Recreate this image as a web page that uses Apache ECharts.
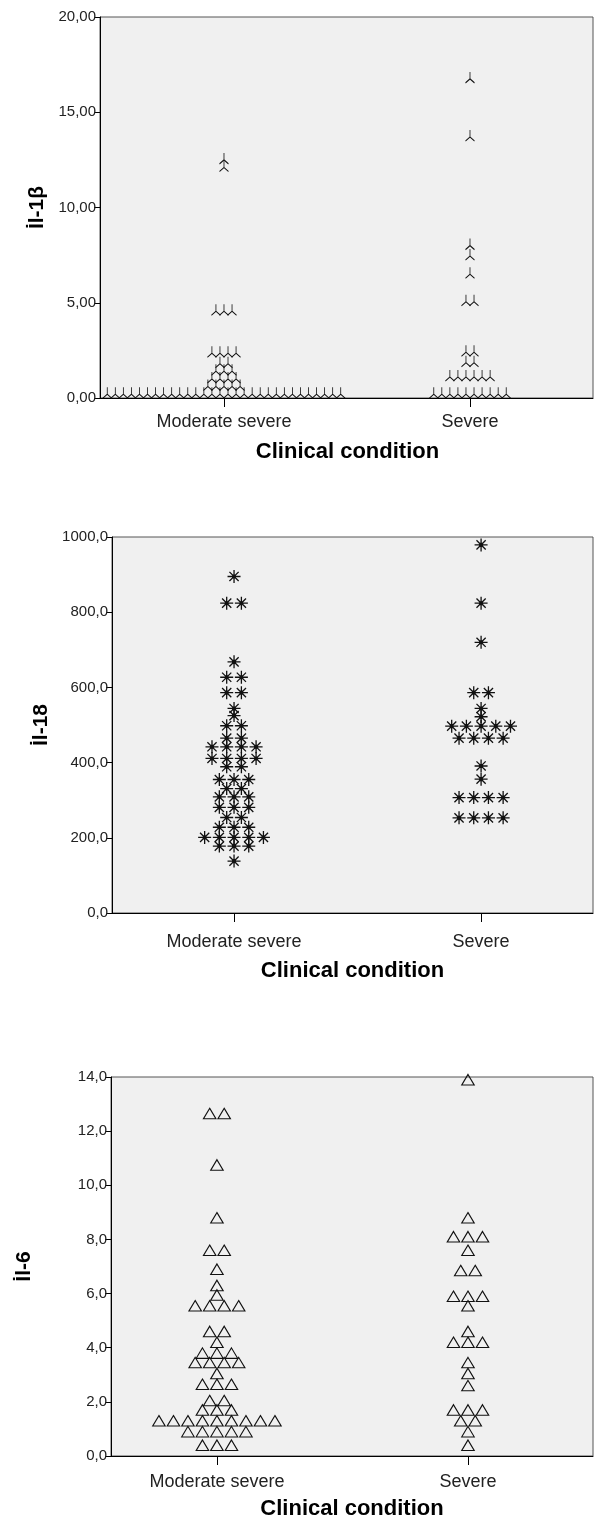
<!DOCTYPE html>
<html>
<head>
<meta charset="utf-8">
<style>
  html, body { margin: 0; padding: 0; background: #fff; }
  #chart { width: 595px; height: 1519px; }
</style>
<script src="https://cdn.jsdelivr.net/npm/echarts@6/dist/echarts.min.js"></script>
</head>
<body>
<div id="chart"></div>
<script>
const categories = ['Moderate severe', 'Severe'];

// Il-1β, one entry per patient (values read at the dot bins)
const il1bModerate = [
  12.5, 12.1,
  4.55, 4.55, 4.55,
  2.35, 2.35, 2.35, 2.35,
  1.8, 1.8,
  1.4, 1.4, 1.4,
  1.0, 1.0, 1.0, 1.0,
  0.6, 0.6, 0.6, 0.6, 0.6,
  0.2, 0.2, 0.2, 0.2, 0.2, 0.2, 0.2, 0.2, 0.2, 0.2,
  0.2, 0.2, 0.2, 0.2, 0.2, 0.2, 0.2, 0.2, 0.2, 0.2,
  0.2, 0.2, 0.2, 0.2, 0.2, 0.2, 0.2, 0.2, 0.2, 0.2
];
const il1bSevere = [
  16.75, 13.7, 8.0, 7.45, 6.5,
  5.05, 5.05,
  2.4, 2.4,
  1.85, 1.85,
  1.1, 1.1, 1.1, 1.1, 1.1, 1.1,
  0.2, 0.2, 0.2, 0.2, 0.2, 0.2, 0.2, 0.2, 0.2, 0.2
];

// Il-18
const il18Moderate = [
  895, 824, 824, 668, 627, 627, 586, 586, 544, 525,
  498, 498, 465, 465,
  442, 442, 442, 442,
  411, 411, 411, 411,
  389, 389,
  355, 355, 355,
  331, 331,
  309, 309, 309,
  281, 281, 281,
  254, 254,
  228, 228, 228,
  201, 201, 201, 201, 201,
  178, 178, 178,
  138
];
const il18Severe = [
  979, 824, 720, 586, 586, 544, 522,
  497, 497, 497, 497, 497,
  465, 465, 465, 465,
  391, 356,
  307, 307, 307, 307,
  253, 253, 253, 253
];

// Il-6
const il6Moderate = [
  12.65, 12.65, 10.75, 8.8, 7.6, 7.6, 6.9, 6.3, 5.95,
  5.55, 5.55, 5.55, 5.55,
  4.6, 4.6, 4.2,
  3.8, 3.8, 3.8,
  3.45, 3.45, 3.45, 3.45,
  3.05,
  2.65, 2.65, 2.65,
  2.05, 2.05,
  1.7, 1.7, 1.7,
  1.3, 1.3, 1.3, 1.3, 1.3, 1.3, 1.3, 1.3, 1.3,
  0.9, 0.9, 0.9, 0.9, 0.9,
  0.4, 0.4, 0.4
];
const il6Severe = [
  13.9, 8.8, 8.1, 8.1, 8.1, 7.6, 6.85, 6.85,
  5.9, 5.9, 5.9, 5.55, 4.6,
  4.2, 4.2, 4.2,
  3.45, 3.05, 2.6,
  1.7, 1.7, 1.7,
  1.3, 1.3, 0.9, 0.4
];

const font = 'Liberation Sans, Arial, sans-serif';
const textColor = '#222';

const tripod = 'path://M0,7M0,0L0,-7M0,0L-4.5,4M0,0L4.5,4';
const asterisk = 'path://M0,-6.5L0,6.5M-6.5,0L6.5,0M-4.6,-4.6L4.6,4.6M-4.6,4.6L4.6,-4.6M-1.4,-1.4L1.4,-1.4L1.4,1.4L-1.4,1.4Z';

// dots with the same value sit side by side, centred on the category
function stackDots(values, catValue, spacing) {
  const rows = {};
  values.forEach(v => { (rows[v] = rows[v] || []).push(v); });
  const out = [];
  Object.keys(rows).forEach(k => {
    const n = rows[k].length;
    rows[k].forEach((v, i) => {
      out.push({ value: [catValue, v], symbolOffset: [(i - (n - 1) / 2) * spacing, 0] });
    });
  });
  return out;
}

const panels = [
  { grid: { left: 100, top: 17, width: 493, height: 381 },
    xMin: 0.496, xMax: 2.5, yMax: 20, yStep: 5, dec: 2, yName: 'İl-1β', yGap: 45,
    labelMargin: 15, nameGap: 43, namePad: [0, 0, 0, 2],
    symbol: tripod, size: [9, 14], spacing: 8.05, fill: '#000', stroke: 1,
    groups: [il1bModerate, il1bSevere] },
  { grid: { left: 112, top: 537, width: 481, height: 376 },
    xMin: 0.506, xMax: 2.453, yMax: 1000, yStep: 200, dec: 1, yName: 'İl-18', yGap: 57,
    labelMargin: 20, nameGap: 47, namePad: [0, 0, 0, 0],
    symbol: asterisk, size: 13, spacing: 14.7, fill: '#000', stroke: 1.3,
    groups: [il18Moderate, il18Severe] },
  { grid: { left: 111, top: 1077, width: 482, height: 379 },
    xMin: 0.578, xMax: 2.498, yMax: 14, yStep: 2, dec: 1, yName: 'İl-6', yGap: 76,
    labelMargin: 17, nameGap: 42, namePad: [0, 0, 0, 0],
    symbol: 'triangle', size: [12.5, 10.5], spacing: 14.5, fill: 'rgba(0,0,0,0)', stroke: 1.1,
    groups: [il6Moderate, il6Severe] }
];

const option = {
  animation: false,
  grid: panels.map(p => Object.assign({
    show: true, backgroundColor: '#f0f0f0', borderColor: '#555', borderWidth: 1,
    containLabel: false, outerBoundsMode: 'none'
  }, p.grid)),
  xAxis: panels.map((p, i) => ({
    type: 'value', gridIndex: i, min: p.xMin, max: p.xMax,
    axisLine: { show: true, onZero: false, lineStyle: { color: '#000', width: 1 } },
    axisTick: { show: true, customValues: [1, 2], length: 9, lineStyle: { color: '#000' } },
    axisLabel: {
      customValues: [1, 2], margin: p.labelMargin, fontSize: 18, fontFamily: font, color: textColor,
      formatter: v => categories[Math.round(v) - 1] || ''
    },
    splitLine: { show: false },
    name: 'Clinical condition', nameLocation: 'middle', nameGap: p.nameGap,
    nameTextStyle: { fontSize: 22, fontWeight: 'bold', fontFamily: font, color: '#000', padding: p.namePad }
  })),
  yAxis: panels.map((p, i) => ({
    type: 'value', gridIndex: i, min: 0, max: p.yMax, interval: p.yStep,
    axisLine: { show: true, lineStyle: { color: '#000', width: 1 } },
    axisTick: { show: true, length: 6, lineStyle: { color: '#000' } },
    axisLabel: {
      fontSize: 15, fontFamily: font, color: textColor, margin: 4,
      formatter: v => v.toFixed(p.dec).replace('.', ',')
    },
    splitLine: { show: false },
    name: p.yName, nameLocation: 'middle', nameRotate: 90, nameGap: p.yGap,
    nameTextStyle: { fontSize: 21, fontWeight: 'bold', fontFamily: font, color: '#000' }
  })),
  series: []
};

panels.forEach((p, i) => {
  p.groups.forEach((vals, g) => {
    option.series.push({
      type: 'scatter', xAxisIndex: i, yAxisIndex: i, clip: false,
      symbol: p.symbol, symbolSize: p.size,
      itemStyle: { color: p.fill, borderColor: '#111', borderWidth: p.stroke, opacity: 1 },
      emphasis: { disabled: true },
      data: stackDots(vals, g + 1, p.spacing)
    });
  });
});

const chart = echarts.init(document.getElementById('chart'));
chart.setOption(option);
</script>
</body>
</html>
